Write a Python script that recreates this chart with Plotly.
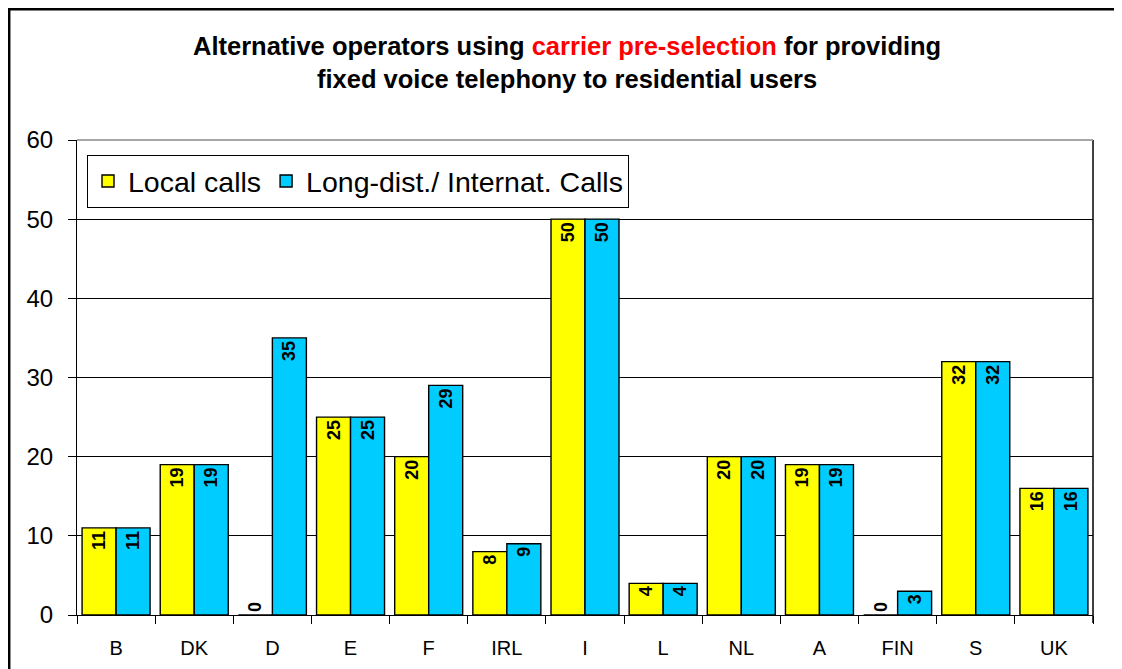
import plotly.graph_objects as go

categories = ["B", "DK", "D", "E", "F", "IRL", "I", "L", "NL", "A", "FIN", "S", "UK"]
local_calls = [11, 19, 0, 25, 20, 8, 50, 4, 20, 19, 0, 32, 16]
long_dist_calls = [11, 19, 35, 25, 29, 9, 50, 4, 20, 19, 3, 32, 16]
series_names = ["Local calls", "Long-dist./ Internat. Calls"]
y_ticks = [0, 10, 20, 30, 40, 50, 60]

# page has an 8px body margin; figure covers page area (8,8)-(1122,669)
W, H = 1114, 661
L, R, T, B = 69, 29, 132, 54
pw, ph = W - L - R, H - T - B

def positions(vals):
    return ["outside" if v == 0 else "inside" for v in vals]

fig = go.Figure()
for name, vals, color in [(series_names[0], local_calls, "#FFFF00"),
                          (series_names[1], long_dist_calls, "#00CCFF")]:
    fig.add_trace(go.Bar(
        x=categories, y=vals, name=name,
        marker=dict(color=color, line=dict(color="black", width=1.4)),
        text=[str(v) for v in vals],
        textposition=positions(vals),
        insidetextanchor="end",
        textangle=-90,
        textfont=dict(family="Liberation Sans, Arial", size=18, color="black", weight="bold"),
        cliponaxis=False,
    ))

fig.update_layout(
    width=W, height=H,
    margin=dict(l=L, r=R, t=T, b=B, pad=0, autoexpand=False),
    paper_bgcolor="white", plot_bgcolor="white",
    barmode="group", bargap=0.13, bargroupgap=0,
    font=dict(family="Liberation Sans, Arial", color="black"),
    uniformtext=dict(minsize=18, mode="show"),
    showlegend=True,
    legend=dict(
        orientation="h", x=10 / pw, y=1 - 15 / ph, xanchor="left", yanchor="top",
        bordercolor="black", borderwidth=1, bgcolor="white",
        font=dict(size=28.5, family="Liberation Sans, Arial"),
        itemwidth=30, tracegroupgap=0,
    ),
    xaxis=dict(
        showline=True, linecolor="black", linewidth=1,
        ticks="outside", tickson="boundaries", ticklen=8, tickcolor="black",
        tickfont=dict(size=20), showgrid=False, ticklabelstandoff=15,
        automargin=False,
        range=[-0.5, len(categories) - 0.5],
    ),
    yaxis=dict(
        range=[0, 60], tickvals=y_ticks,
        showline=True, linecolor="black", linewidth=1,
        ticks="outside", ticklen=8, tickcolor="black",
        tickfont=dict(size=24), ticklabelstandoff=10,
        automargin=False,
        showgrid=True, gridcolor="black", gridwidth=1,
        zeroline=False,
    ),
)

# plot area right border and top (60) gridline appearance
fig.add_shape(type="line", xref="paper", yref="paper", x0=1, x1=1, y0=-8 / ph, y1=1,
              line=dict(color="black", width=1.5))
fig.add_shape(type="line", xref="paper", yref="paper", x0=0, x1=1, y0=1, y1=1,
              line=dict(color="#888888", width=1.5))

# outer chart border (top and left edges visible)
fig.add_shape(type="rect", xref="paper", yref="paper",
              x0=(1.2 - L) / pw, x1=(W + 20 - L) / pw,
              y0=-(B + 20) / ph, y1=(T - 1.2) / ph + 1,
              line=dict(color="black", width=2.5), layer="above")

title_text = ("<b>Alternative operators using <span style='color:#FF0000'>carrier pre-selection</span>"
              " for providing<br>fixed voice telephony to residential users</b>")
fig.add_annotation(
    text=title_text, xref="paper", yref="paper",
    x=(559 - L) / pw, y=(H - B - 54.5) / ph, xanchor="center", yanchor="middle",
    showarrow=False, align="center",
    font=dict(family="Liberation Sans Narrow, Arial Narrow, Liberation Sans", size=25.5, color="black"),
)

fig.write_html("out.html")
